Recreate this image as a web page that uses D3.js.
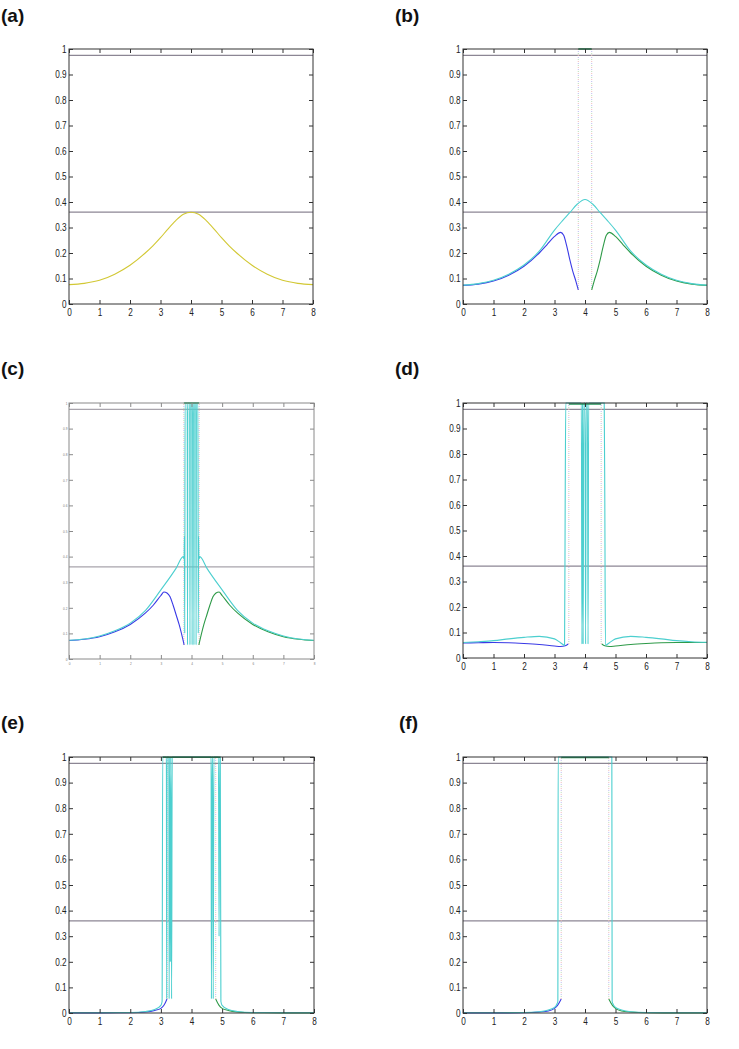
<!DOCTYPE html>
<html>
<head>
<meta charset="utf-8">
<script src="https://cdn.jsdelivr.net/npm/d3@7"></script>
<style>
body { margin: 0; background: #fff; }
svg { display: block; }
</style>
</head>
<body>
<script>
"use strict";

// ---- shared axis data ----
const xTicks = [0, 1, 2, 3, 4, 5, 6, 7, 8];
const xTickLabels = ["0", "1", "2", "3", "4", "5", "6", "7", "8"];
const yTicks = [0, 0.1, 0.2, 0.3, 0.4, 0.5, 0.6, 0.7, 0.8, 0.9, 1];
const yTickLabels = ["0", "0.1", "0.2", "0.3", "0.4", "0.5", "0.6", "0.7", "0.8", "0.9", "1"];
const refLevels = [0.975, 0.36];
const panelNames = ["(a)", "(b)", "(c)", "(d)", "(e)", "(f)"];

// ---- (a) ----
const aYellowX = [0, 0.5, 1, 1.5, 2, 2.5, 2.75, 3, 3.25, 3.5, 3.75, 4, 4.25, 4.5, 4.75, 5, 5.25, 5.5, 6, 6.5, 7, 7.5, 8];
const aYellow  = [0.076, 0.081, 0.093, 0.117, 0.152, 0.2, 0.228, 0.26, 0.295, 0.327, 0.352, 0.36, 0.352, 0.327, 0.295, 0.26, 0.228, 0.2, 0.152, 0.117, 0.093, 0.081, 0.076];

// ---- (b) ----
const bCyanX = [0, 0.5, 1, 1.5, 2, 2.5, 3, 3.25, 3.5, 3.75, 4, 4.25, 4.5, 4.75, 5, 5.5, 6, 6.5, 7, 7.5, 8];
const bCyan  = [0.074, 0.08, 0.093, 0.117, 0.153, 0.207, 0.29, 0.325, 0.358, 0.392, 0.41, 0.392, 0.358, 0.325, 0.29, 0.207, 0.153, 0.117, 0.093, 0.08, 0.074];
const bBlueX = [0, 0.5, 1, 1.5, 2, 2.5, 2.75, 3, 3.2, 3.3, 3.4, 3.5, 3.6, 3.7, 3.78];
const bBlue  = [0.073, 0.078, 0.09, 0.113, 0.148, 0.2, 0.232, 0.265, 0.281, 0.27, 0.228, 0.175, 0.128, 0.09, 0.055];
const bGreenX = [4.22, 4.3, 4.4, 4.5, 4.6, 4.7, 4.8, 5, 5.25, 5.5, 6, 6.5, 7, 7.5, 8];
const bGreen  = [0.055, 0.09, 0.128, 0.175, 0.228, 0.27, 0.281, 0.265, 0.232, 0.2, 0.148, 0.113, 0.09, 0.078, 0.073];
const bDotX = [3.78, 4.22];

// ---- (c) ----
const cCyanX = [0, 0.5, 1, 1.5, 2, 2.5, 3, 3.5, 3.73, 3.76, 3.77, 3.78, 3.79, 3.86, 3.87, 3.88, 3.94, 3.95, 3.96, 4.01, 4.02, 4.03, 4.07, 4.08, 4.09, 4.14, 4.15, 4.16, 4.21, 4.22, 4.23, 4.24, 4.27, 4.5, 5, 5.5, 6, 6.5, 7, 7.5, 8];
const cCyan  = [0.073, 0.078, 0.09, 0.11, 0.14, 0.19, 0.27, 0.355, 0.4, 0.39, 0.48, 0.1, 1, 1, 0.055, 1, 1, 0.055, 1, 1, 0.055, 1, 1, 0.055, 1, 1, 0.055, 1, 1, 0.1, 0.48, 0.39, 0.4, 0.355, 0.27, 0.19, 0.14, 0.11, 0.09, 0.078, 0.073];
const cBlueX = [0, 0.5, 1, 1.5, 2, 2.5, 2.75, 3, 3.1, 3.2, 3.3, 3.4, 3.5, 3.6, 3.76];
const cBlue  = [0.072, 0.077, 0.087, 0.106, 0.135, 0.18, 0.21, 0.248, 0.262, 0.258, 0.243, 0.21, 0.172, 0.133, 0.055];
const cGreenX = [4.24, 4.4, 4.5, 4.6, 4.7, 4.8, 4.9, 5, 5.25, 5.5, 6, 6.5, 7, 7.5, 8];
const cGreen  = [0.055, 0.133, 0.172, 0.21, 0.243, 0.258, 0.262, 0.248, 0.21, 0.18, 0.135, 0.106, 0.087, 0.077, 0.072];
const cDotX = [3.75, 4.25];

// ---- (d) ----
const dCyanX = [0, 0.5, 1, 1.5, 2, 2.5, 3, 3.2, 3.33, 3.35, 3.37, 3.88, 3.9, 3.92, 3.94, 3.96, 4, 4.02, 4.04, 4.08, 4.1, 4.12, 4.63, 4.65, 4.67, 4.8, 5, 5.5, 6, 6.5, 7, 7.5, 8];
const dCyan  = [0.061, 0.064, 0.068, 0.075, 0.081, 0.085, 0.075, 0.06, 0.05, 0.6, 1, 1, 0.055, 1, 0.055, 1, 1, 0.055, 1, 1, 0.055, 1, 1, 0.6, 0.05, 0.06, 0.075, 0.085, 0.081, 0.075, 0.068, 0.064, 0.062];
const dBlueX = [0, 0.5, 1, 1.5, 2, 2.5, 3, 3.2, 3.35, 3.45];
const dBlue  = [0.059, 0.06, 0.061, 0.06, 0.057, 0.053, 0.047, 0.045, 0.048, 0.055];
const dGreenX = [4.55, 4.65, 4.8, 5, 5.5, 6, 6.5, 7, 7.5, 8];
const dGreen  = [0.055, 0.048, 0.045, 0.047, 0.053, 0.057, 0.06, 0.061, 0.061, 0.061];
const dDotX = [3.47, 4.53];

// ---- (e) ----
const eCyanX = [0, 1, 2, 2.5, 2.8, 3, 3.04, 3.06, 3.18, 3.19, 3.2, 3.26, 3.27, 3.29, 3.31, 3.33, 3.35, 3.37, 4.64, 4.65, 4.67, 4.69, 4.71, 4.73, 4.88, 4.9, 4.92, 4.94, 4.96, 5, 5.2, 5.5, 6, 7, 8];
const eCyan  = [0.001, 0.001, 0.002, 0.006, 0.014, 0.03, 0.045, 1, 1, 0.055, 1, 1, 0.055, 1, 0.2, 1, 0.055, 1, 1, 0.055, 1, 1, 0.055, 1, 1, 0.3, 1, 1, 0.045, 0.03, 0.014, 0.006, 0.002, 0.001, 0.001];
const eBlueX = [0, 1, 2, 2.5, 2.8, 3, 3.1, 3.2];
const eBlue  = [0.0005, 0.0005, 0.001, 0.004, 0.01, 0.018, 0.03, 0.055];
const eGreenX = [4.79, 4.9, 5, 5.2, 5.5, 6, 7, 8];
const eGreen  = [0.055, 0.03, 0.018, 0.01, 0.004, 0.001, 0.0005, 0.0005];
const eDotX = [3.21, 4.79];

// ---- (f) ----
const fCyanX = [0, 1, 2, 2.5, 2.8, 3, 3.08, 3.11, 3.12, 4.88, 4.89, 4.92, 5, 5.2, 5.5, 6, 7, 8];
const fCyan  = [0.001, 0.001, 0.002, 0.005, 0.012, 0.022, 0.035, 0.046, 1, 1, 0.046, 0.035, 0.022, 0.012, 0.005, 0.002, 0.001, 0.001];
const fBlueX = [0, 1, 2, 2.5, 2.8, 3, 3.1, 3.22];
const fBlue  = [0.0005, 0.0005, 0.001, 0.004, 0.008, 0.018, 0.03, 0.055];
const fGreenX = [4.78, 4.9, 5, 5.2, 5.5, 6, 7, 8];
const fGreen  = [0.055, 0.03, 0.018, 0.008, 0.004, 0.001, 0.0005, 0.0005];
const fDotX = [3.22, 4.78];

(function() {

const width = 739;
const height = 1049;

const colors = {
    yellow: "#d2c834",
    cyan: "#4ccfcf",
    blue: "#3a3ae6",
    green: "#2e9a48",
    topGreen: "#23945a",
    ref: "#8c8694"
};

let svg = d3.select('body').append('svg')
    .attr("width", width)
    .attr("height", height);

function zip(xs, ys) {
    return xs.map((v, i) => [v, ys[i]]);
}

// one entry per panel: where the box sits plus what goes in it
let panels = [
    { name: panelNames[0], lx: 1, ly: 22, left: 69, top: 49, w: 244, h: 255, font: 10.5,
      series: [{ d: zip(aYellowX, aYellow), c: colors.yellow }], dots: [], seg: null },
    { name: panelNames[1], lx: 395, ly: 22, left: 463, top: 49, w: 244, h: 255, font: 10.5,
      series: [{ d: zip(bBlueX, bBlue), c: colors.blue }, { d: zip(bGreenX, bGreen), c: colors.green },
               { d: zip(bCyanX, bCyan), c: colors.cyan }],
      dots: bDotX, dotLow: 0.055, seg: [bDotX[0], bDotX[1], 1] },
    { name: panelNames[2], lx: 1, ly: 375, left: 69, top: 403, w: 245, h: 256, font: 4, faint: true,
      series: [{ d: zip(cBlueX, cBlue), c: colors.blue }, { d: zip(cGreenX, cGreen), c: colors.green },
               { d: zip(cCyanX, cCyan), c: colors.cyan }],
      dots: cDotX, dotLow: 0.055, seg: [cDotX[0], cDotX[1], 1] },
    { name: panelNames[3], lx: 395, ly: 375, left: 463, top: 403, w: 244, h: 255, font: 10.5,
      series: [{ d: zip(dBlueX, dBlue), c: colors.blue }, { d: zip(dGreenX, dGreen), c: colors.green },
               { d: zip(dCyanX, dCyan), c: colors.cyan }],
      dots: dDotX, dotLow: 0.055, seg: [dDotX[0], dDotX[1], 0.996] },
    { name: panelNames[4], lx: 1, ly: 729, left: 69, top: 757, w: 245, h: 256, font: 10.5,
      series: [{ d: zip(eBlueX, eBlue), c: colors.blue }, { d: zip(eGreenX, eGreen), c: colors.green },
               { d: zip(eCyanX, eCyan), c: colors.cyan }],
      dots: eDotX, dotLow: 0.055, seg: [3.06, 4.94, 0.999] },
    { name: panelNames[5], lx: 399, ly: 729, left: 463, top: 757, w: 244, h: 256, font: 10.5,
      series: [{ d: zip(fBlueX, fBlue), c: colors.blue }, { d: zip(fGreenX, fGreen), c: colors.green },
               { d: zip(fCyanX, fCyan), c: colors.cyan }],
      dots: fDotX, dotLow: 0.055, seg: [fDotX[0], fDotX[1], 0.998] }
];

const tickFont = "'Liberation Sans',Arial,sans-serif";

panels.forEach(function(p) {
    let x = d3.scaleLinear().domain([0, 8]).range([p.left, p.left + p.w]);
    let y = d3.scaleLinear().domain([0, 1]).range([p.top + p.h, p.top]);
    let g = svg.append('g');

    // panel letter
    svg.append('text')
        .attr("x", p.lx)
        .attr("y", p.ly)
        .style("font-family", "'Liberation Sans',Arial,sans-serif")
        .style("font-weight", "bold")
        .style("font-size", "19px")
        .style("fill", "#111")
        .text(p.name);

    // horizontal reference levels
    refLevels.forEach(function(v) {
        g.append('line')
            .attr("x1", x(0)).attr("x2", x(8))
            .attr("y1", y(v)).attr("y2", y(v))
            .style("stroke", p.faint ? "#a8a4ac" : colors.ref)
            .style("stroke-width", 1.3);
    });

    // dotted verticals, drawn as three offset pale dotted colours
    let dotCols = ["#f0b8b8", "#b8b8f0", "#b8dcb8"];
    p.dots.forEach(function(dx) {
        dotCols.forEach(function(c, k) {
            g.append('line')
                .attr("x1", x(dx)).attr("x2", x(dx))
                .attr("y1", y(p.dotLow)).attr("y2", y(1))
                .style("stroke", c)
                .style("stroke-width", 1)
                .style("stroke-dasharray", "1,5")
                .style("stroke-dashoffset", k * 2);
        });
    });

    let line = d3.line()
        .x(d => x(d[0]))
        .y(d => y(d[1]))
        .curve(d3.curveMonotoneX);

    p.series.forEach(function(s) {
        g.append('path')
            .attr("d", line(s.d))
            .style("fill", "none")
            .style("stroke", s.c)
            .style("stroke-width", 1.1);
    });

    if (p.seg) {
        g.append('line')
            .attr("x1", x(p.seg[0])).attr("x2", x(p.seg[1]))
            .attr("y1", y(p.seg[2])).attr("y2", y(p.seg[2]))
            .style("stroke", colors.topGreen)
            .style("stroke-width", 1.6);
    }

    // axes with inward ticks on all four sides
    let boxCol = p.faint ? "#8a8a8a" : "#333";
    let bottom = g.append('g')
        .attr("transform", "translate(0," + (p.top + p.h) + ")")
        .call(d3.axisBottom(x).tickValues(xTicks).tickSize(-4).tickPadding(5)
            .tickFormat((d, i) => xTickLabels[i]));
    let left = g.append('g')
        .attr("transform", "translate(" + p.left + ",0)")
        .call(d3.axisLeft(y).tickValues(yTicks).tickSize(-4).tickPadding(3)
            .tickFormat((d, i) => yTickLabels[i]));
    let top = g.append('g')
        .attr("transform", "translate(0," + p.top + ")")
        .call(d3.axisTop(x).tickValues(xTicks).tickSize(-4).tickFormat(""));
    let right = g.append('g')
        .attr("transform", "translate(" + (p.left + p.w) + ",0)")
        .call(d3.axisRight(y).tickValues(yTicks).tickSize(-4).tickFormat(""));

    [bottom, left, top, right].forEach(function(a) {
        a.select(".domain").remove();
        a.selectAll(".tick line").style("stroke", boxCol);
        a.selectAll("text")
            .style("font-family", tickFont)
            .style("font-size", p.font + "px")
            .style("fill", p.faint ? "#777" : "#222");
    });
    if (p.faint) {
        bottom.selectAll("text").attr("y", 3);
        left.selectAll("text").attr("x", -2);
    }
    // narrow the tick labels like the original output
    bottom.selectAll("text").attr("transform", "scale(0.78,1)");
    left.selectAll("text").attr("transform", "scale(0.78,1)");

    g.append('rect')
        .attr("x", p.left).attr("y", p.top)
        .attr("width", p.w).attr("height", p.h)
        .style("fill", "none")
        .style("stroke", boxCol)
        .style("stroke-width", 1);
});

})();
</script>
</body>
</html>
